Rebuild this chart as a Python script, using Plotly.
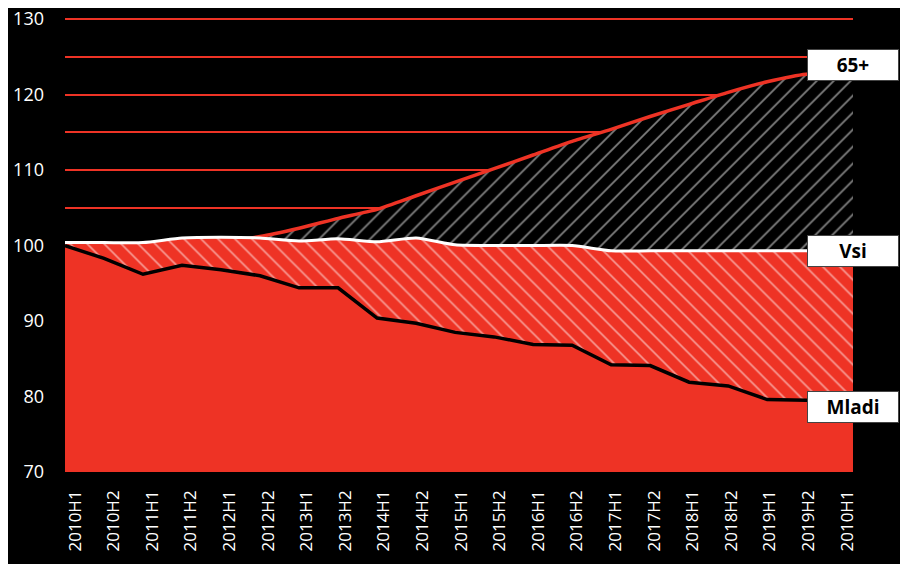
import numpy as np
import plotly.graph_objects as go

# half-year labels as printed on the axis (last one repeats 2010H1 in the source)
periods = [f"{y}H{h}" for y in range(2010, 2020) for h in (1, 2)] + ["2010H1"]

mladi = [100.0, 98.3, 96.2, 97.4, 96.8, 96.0, 94.4, 94.4, 90.4, 89.7,
         88.5, 87.9, 86.9, 86.8, 84.2, 84.1, 81.9, 81.4, 79.6, 79.5]
vsi = [100.4, 100.4, 100.4, 101.0, 101.1, 101.0, 100.6, 100.9, 100.5, 101.0,
       100.1, 100.0, 100.0, 100.0, 99.3, 99.3, 99.3, 99.3, 99.3, 99.3]
starejsi = [100.0, 100.1, 100.2, 100.4, 100.6, 101.2, 102.3, 103.6, 104.8, 106.6,
            108.4, 110.2, 112.0, 113.8, 115.4, 117.1, 118.7, 120.3, 121.7, 122.7]

RED = "#EE3325"
X_END = 20.2
FONT = "Open Sans"

idx = np.arange(len(mladi))
x_fill = np.append(idx, X_END)


def extend(vals):
    # areas run on flat to the right edge of the plot
    return list(vals) + [vals[-1]]


fig = go.Figure()

# 65+ : black with white hatching, red line
fig.add_trace(go.Scatter(
    x=x_fill, y=extend(starejsi), mode="lines", fill="tozeroy",
    fillcolor="black",
    fillpattern=dict(shape="/", bgcolor="black", fgcolor="white", size=12, solidity=0.15),
    line=dict(color=RED, width=3.5, shape="spline", smoothing=0.6),
    hoverinfo="skip",
))

# Vsi : red with white hatching, white line
fig.add_trace(go.Scatter(
    x=x_fill, y=extend(vsi), mode="lines", fill="tozeroy",
    fillcolor=RED,
    fillpattern=dict(shape="\\", bgcolor=RED, fgcolor="white", size=12, solidity=0.14),
    line=dict(color="white", width=3, shape="spline", smoothing=0.6),
    hoverinfo="skip",
))

# Mladi : solid red, black line
fig.add_trace(go.Scatter(
    x=x_fill, y=extend(mladi), mode="lines", fill="tozeroy",
    fillcolor=RED,
    line=dict(color="black", width=3.5),
    hoverinfo="skip",
))

labels = [("65+", starejsi[-1], 9), ("Vsi", vsi[-1], 0), ("Mladi", mladi[-1], -7)]
for text, val, shift in labels:
    fig.add_annotation(
        x=idx[-1], y=val, xref="x", yref="y", text=f"<b>{text}</b>",
        showarrow=False, xanchor="left", yanchor="middle", xshift=1, yshift=shift,
        bgcolor="white", bordercolor="#444444", borderwidth=1, borderpad=2,
        width=86, height=26, align="center",
        font=dict(family=FONT, size=19, color="black"),
    )

tick_pos = np.linspace(0.26, 20.05, len(periods))

# the page adds an 8px body margin, so the figure is sized to fit inside it
fig.update_layout(
    width=900, height=556,
    margin=dict(l=57, r=55, t=10, b=92, autoexpand=False),
    paper_bgcolor="black", plot_bgcolor="black",
    showlegend=False,
    font=dict(family=FONT, color="white"),
    xaxis=dict(
        range=[0, X_END], tickvals=tick_pos, ticktext=periods, tickangle=-90,
        showgrid=False, zeroline=False, showline=False, ticks="", automargin=False,
        tickfont=dict(size=17, color="white"), ticklabelstandoff=14,
        ticklabeloverflow="allow",
    ),
    yaxis=dict(
        range=[70, 130.15], dtick=10, tick0=70,
        showgrid=True, gridcolor=RED, gridwidth=2,
        minor=dict(dtick=5, showgrid=True, gridcolor=RED, gridwidth=2),
        zeroline=False, showline=False, ticks="", automargin=False,
        tickfont=dict(size=18, color="white"), ticklabelstandoff=20,
        ticklabeloverflow="allow",
    ),
)

fig.write_html("out.html")
